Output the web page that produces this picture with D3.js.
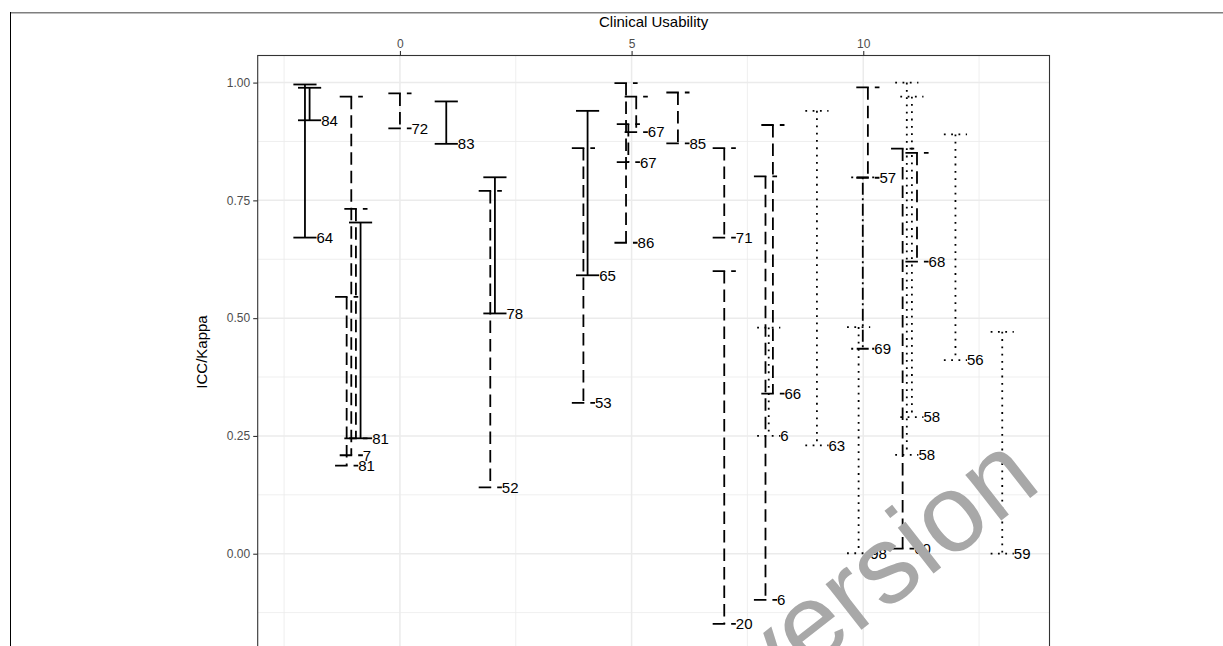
<!DOCTYPE html>
<html>
<head>
<meta charset="utf-8">
<script src="https://cdn.jsdelivr.net/npm/d3@7"></script>
<style>
body { margin: 0; background: #fff; }
text { font-family: "Liberation Sans", Arial, Helvetica, sans-serif; }
</style>
</head>
<body>
<div id="chart"></div>
<script>
// one entry per study: position on the usability axis, CI bounds, line type, reference label
var usability = [-2.05, -1.95, -1.05, -0.95, -0.85, -1.15, 0.0, 1.0, 2.05, 1.95,
    4.05, 3.96, 4.88, 5.1, 4.93, 6.0, 7.0, 7.0, 8.05, 7.89,
    7.96, 9.0, 10.1, 9.99, 9.9, 10.85, 10.94, 11.05, 11.16, 11.99, 13.0];
var lower = [0.671, 0.920, 0.209, 0.245, 0.245, 0.187, 0.903, 0.870, 0.510, 0.141,
    0.591, 0.320, 0.660, 0.895, 0.831, 0.871, 0.671, -0.149, 0.340, -0.098,
    0.250, 0.230, 0.798, 0.435, 0.001, 0.011, 0.210, 0.290, 0.620, 0.411, 0.000];
var upper = [0.996, 0.989, 0.970, 0.732, 0.703, 0.545, 0.977, 0.960, 0.799, 0.770,
    0.940, 0.861, 0.999, 0.970, 0.912, 0.979, 0.861, 0.600, 0.910, 0.801,
    0.480, 0.940, 0.990, 0.799, 0.481, 0.860, 1.000, 0.970, 0.851, 0.890, 0.471];
var lineType = ["solid", "solid", "dashed", "dashed", "solid", "dashed", "dashed", "solid", "solid", "dashed",
    "solid", "dashed", "dashed", "dashed", "dashed", "dashed", "dashed", "dashed", "dashed", "dashed",
    "dotted", "dotted", "dashed", "dotdash", "dotted", "dashed", "dotted", "dotted", "dashed", "dotted", "dotted"];
var refLabel = ["64", "84", "7", "", "81", "81", "72", "83", "78", "52",
    "65", "53", "86", "67", "67", "85", "71", "20", "66", "6",
    "6", "63", "57", "69", "98", "60", "58", "58", "68", "56", "59"];

var xTicks = [0, 5, 10];
var yTicks = [0, 0.25, 0.5, 0.75, 1];
var xMinor = [-2.5, 2.5, 7.5, 12.5];
var yMinor = [-0.125, 0.125, 0.375, 0.625, 0.875];

var dashes = { solid: null, dashed: "12.5,6", dotted: "1.8,5.5", dotdash: "2,3.5,12,3.5" };

function draw() {
    var w = 1223;
    var h = 646;
    var left = 257.7, right = 1049.5, top = 55.5, bottom = 651;
    var capW = 0.5;

    var svg = d3.select("#chart").append("svg").attr("width", w).attr("height", h);

    // page frame bits around the figure
    svg.append("line").attr("x1", 10).attr("x2", 1223).attr("y1", 12.8).attr("y2", 12.8)
        .attr("stroke", "#7f7f7f").attr("stroke-width", 1.6);
    svg.append("line").attr("x1", 10.5).attr("x2", 10.5).attr("y1", 12).attr("y2", h)
        .attr("stroke", "#000").attr("stroke-width", 1);

    var xScale = d3.scaleLinear().domain([-3.07, 14.02]).range([left, right]);
    var yScale = d3.scaleLinear().domain([-0.2065, 1.0575]).range([bottom, top]);

    var panel = svg.append("g");

    panel.selectAll(".vminor").data(xMinor).enter().append("line")
        .attr("x1", function(d) { return xScale(d); }).attr("x2", function(d) { return xScale(d); })
        .attr("y1", top).attr("y2", bottom).attr("stroke", "#ebebeb").attr("stroke-width", 0.8);
    panel.selectAll(".hminor").data(yMinor).enter().append("line")
        .attr("y1", function(d) { return yScale(d); }).attr("y2", function(d) { return yScale(d); })
        .attr("x1", left).attr("x2", right).attr("stroke", "#ebebeb").attr("stroke-width", 0.8);
    panel.selectAll(".vmajor").data(xTicks).enter().append("line")
        .attr("x1", function(d) { return xScale(d); }).attr("x2", function(d) { return xScale(d); })
        .attr("y1", top).attr("y2", bottom).attr("stroke", "#ebebeb").attr("stroke-width", 1.5);
    panel.selectAll(".hmajor").data(yTicks).enter().append("line")
        .attr("y1", function(d) { return yScale(d); }).attr("y2", function(d) { return yScale(d); })
        .attr("x1", left).attr("x2", right).attr("stroke", "#ebebeb").attr("stroke-width", 1.5);

    // error bars: top cap, whisker, bottom cap (each restarts its dash pattern)
    var bars = usability.map(function(x, i) {
        return { x: x, lo: lower[i], hi: upper[i], lt: lineType[i], label: refLabel[i] };
    });

    bars.forEach(function(d) {
        var segs = [
            [d.x - capW / 2, d.hi, d.x + capW / 2, d.hi],
            [d.x, d.hi, d.x, d.lo],
            [d.x - capW / 2, d.lo, d.x + capW / 2, d.lo]
        ];
        segs.forEach(function(s) {
            panel.append("line")
                .attr("x1", xScale(s[0])).attr("y1", yScale(s[1]))
                .attr("x2", xScale(s[2])).attr("y2", yScale(s[3]))
                .attr("stroke", "#000").attr("stroke-width", 1.8)
                .attr("stroke-dasharray", dashes[d.lt]);
        });
    });

    panel.selectAll(".lab").data(bars).enter().append("text")
        .attr("x", function(d) { return xScale(d.x + capW / 2); })
        .attr("y", function(d) { return yScale(d.lo); })
        .attr("dy", "0.36em")
        .attr("font-size", 15)
        .attr("fill", "#000")
        .text(function(d) { return d.label; });

    // panel border
    svg.append("rect").attr("x", left).attr("y", top).attr("width", right - left).attr("height", bottom - top)
        .attr("fill", "none").attr("stroke", "#333").attr("stroke-width", 1.1);

    var xAxis = d3.axisTop(xScale).tickValues(xTicks).tickSize(4.5).tickPadding(3);
    var gx = svg.append("g").attr("transform", "translate(0," + top + ")").call(xAxis);
    var yAxis = d3.axisLeft(yScale).tickValues(yTicks).tickSize(4.5).tickPadding(3)
        .tickFormat(d3.format(".2f"));
    var gy = svg.append("g").attr("transform", "translate(" + left + ",0)").call(yAxis);
    [gx, gy].forEach(function(g) {
        g.select(".domain").remove();
        g.selectAll(".tick line").attr("stroke", "#333").attr("stroke-width", 1.1);
        g.selectAll(".tick text").attr("fill", "#4d4d4d").attr("font-size", 12)
            .style("font-family", "'Liberation Sans', Arial, sans-serif");
    });

    svg.append("text").attr("x", (left + right) / 2).attr("y", 27)
        .attr("text-anchor", "middle").attr("font-size", 15).text("Clinical Usability");
    svg.append("text").attr("transform", "translate(207," + 352 + ") rotate(-90)")
        .attr("text-anchor", "middle").attr("font-size", 15).text("ICC/Kappa");

    // watermark over the figure
    svg.append("text").attr("transform", "translate(764,706) rotate(-38)")
        .attr("font-size", 110).attr("fill", "#a8a8a8").text("version");
}

window.onload = draw;
</script>
</body>
</html>
